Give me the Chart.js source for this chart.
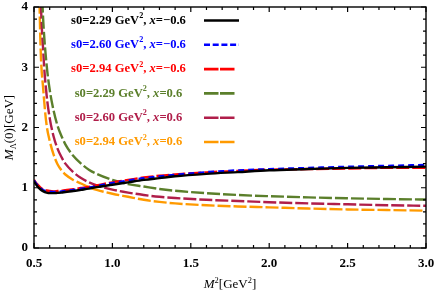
<!DOCTYPE html>
<html>
<head>
<meta charset="utf-8">
<script src="https://cdn.jsdelivr.net/npm/chart.js@4"></script>
<style>
  html, body { margin: 0; padding: 0; background: #fff; }
</style>
</head>
<body>
<canvas id="chart" width="436" height="296"></canvas>
<script>
// M^2 grid [GeV^2]
const m2 = [0.5, 0.52, 0.54, 0.56, 0.58, 0.6, 0.625, 0.65, 0.675, 0.7, 0.75, 0.8, 0.85, 0.9, 1.0, 1.1, 1.2, 1.3, 1.4, 1.6, 1.8, 2.0, 2.25, 2.5, 2.75, 3.0];

// x = -0.6
const s229neg = [1.1, 1.03, 0.975, 0.94, 0.92, 0.91, 0.91, 0.915, 0.92, 0.93, 0.945, 0.965, 0.985, 1.01, 1.05, 1.09, 1.13, 1.16, 1.19, 1.23, 1.26, 1.29, 1.31, 1.33, 1.34, 1.35];
const s260neg = [1.12, 1.05, 0.995, 0.96, 0.945, 0.935, 0.93, 0.935, 0.94, 0.95, 0.965, 0.985, 1.005, 1.03, 1.08, 1.12, 1.16, 1.19, 1.215, 1.26, 1.29, 1.31, 1.33, 1.35, 1.365, 1.38];
const s294neg = [1.13, 1.06, 1.005, 0.97, 0.955, 0.945, 0.94, 0.945, 0.95, 0.96, 0.975, 0.995, 1.015, 1.04, 1.09, 1.13, 1.17, 1.2, 1.22, 1.255, 1.28, 1.3, 1.31, 1.32, 1.33, 1.33];
// x = 0.6
const s229pos = [null, null, 4.92, 3.72, 3.05, 2.63, 2.28, 2.03, 1.86, 1.72, 1.53, 1.4, 1.3, 1.23, 1.13, 1.06, 1.02, 0.98, 0.95, 0.91, 0.88, 0.86, 0.84, 0.825, 0.813, 0.804];
const s260pos = [null, 9.6, 4.62, 3.22, 2.55, 2.16, 1.85, 1.65, 1.51, 1.4, 1.26, 1.16, 1.09, 1.04, 0.97, 0.92, 0.88, 0.85, 0.83, 0.8, 0.78, 0.76, 0.74, 0.725, 0.71, 0.7];
const s294pos = [null, 6.5, 3.5, 2.6, 2.05, 1.78, 1.55, 1.39, 1.29, 1.22, 1.13, 1.07, 1.01, 0.965, 0.9, 0.85, 0.8, 0.765, 0.74, 0.71, 0.69, 0.675, 0.655, 0.64, 0.63, 0.62];

const xTicks = [0.5, 1.0, 1.5, 2.0, 2.5, 3.0];
const yTicks = [0, 1, 2, 3, 4];

const labels = [
  { s0: '2.29', x: '\u22120.6' },
  { s0: '2.60', x: '\u22120.6' },
  { s0: '2.94', x: '\u22120.6' },
  { s0: '2.29', x: '0.6' },
  { s0: '2.60', x: '0.6' },
  { s0: '2.94', x: '0.6' }
];

const serif = '"Liberation Serif", "Times New Roman", serif';

function pts(ys) {
  return m2.map((x, i) => ({ x: x, y: ys[i] }));
}

function series(ys, color, dash, width) {
  return {
    data: pts(ys),
    borderColor: color,
    backgroundColor: color,
    borderWidth: width,
    borderDash: dash,
    pointRadius: 0,
    fill: false,
    cubicInterpolationMode: 'monotone',
    spanGaps: false
  };
}

// runs: [text, italic, shift] ; shift -1 superscript, 1 subscript
function drawRuns(ctx, runs, x, y, size, weight, align) {
  const measure = runs.map(r => {
    const s = r[2] ? size * 0.65 : size;
    ctx.font = (r[1] ? 'italic ' : '') + weight + ' ' + s + 'px ' + serif;
    return ctx.measureText(r[0]).width;
  });
  const total = measure.reduce((a, b) => a + b, 0);
  let cx = align === 'center' ? x - total / 2 : (align === 'right' ? x - total : x);
  ctx.textBaseline = 'middle';
  ctx.textAlign = 'left';
  runs.forEach((r, i) => {
    const s = r[2] ? size * 0.65 : size;
    ctx.font = (r[1] ? 'italic ' : '') + weight + ' ' + s + 'px ' + serif;
    const dy = r[2] === -1 ? -size * 0.35 : (r[2] === 1 ? size * 0.3 : 0);
    ctx.fillText(r[0], cx, y + dy);
    cx += measure[i];
  });
}

const framePlugin = {
  id: 'frame',
  afterDatasetsDraw(chart) {
    const ctx = chart.ctx;
    const a = chart.chartArea;
    const xs = chart.scales.x, ys = chart.scales.y;
    ctx.save();
    ctx.strokeStyle = '#000';
    ctx.lineWidth = 1.4;
    ctx.setLineDash([]);
    ctx.strokeRect(a.left, a.top, a.right - a.left, a.bottom - a.top);

    // inward ticks on all four sides
    ctx.lineWidth = 1.2;
    ctx.beginPath();
    for (let i = 0; i <= 25; i++) {
      const v = 0.5 + i * 0.1;
      const px = xs.getPixelForValue(v);
      const len = i % 5 === 0 ? 5 : 3;
      ctx.moveTo(px, a.bottom); ctx.lineTo(px, a.bottom - len);
      ctx.moveTo(px, a.top); ctx.lineTo(px, a.top + len);
    }
    for (let i = 0; i <= 20; i++) {
      const v = i * 0.2;
      const py = ys.getPixelForValue(v);
      const len = i % 5 === 0 ? 5 : 3;
      ctx.moveTo(a.left, py); ctx.lineTo(a.left + len, py);
      ctx.moveTo(a.right, py); ctx.lineTo(a.right - len, py);
    }
    ctx.stroke();

    // axis titles
    ctx.fillStyle = '#000';
    drawRuns(ctx, [['M', true], ['2', false, -1], ['[GeV', false], ['2', false, -1], [']', false]],
      (a.left + a.right) / 2, 285, 13, 'normal', 'center');
    ctx.save();
    ctx.translate(10, (a.top + a.bottom) / 2);
    ctx.rotate(-Math.PI / 2);
    drawRuns(ctx, [['M', true], ['\u039B', false, 1], ['(0)[GeV]', false]], 0, 0, 13, 'normal', 'center');
    ctx.restore();

    // legend
    chart.data.datasets.forEach((ds, i) => {
      const y = 20.5 + i * 24.3;
      ctx.fillStyle = ds.borderColor;
      const lb = labels[i];
      drawRuns(ctx, [['s0=' + lb.s0 + ' GeV', false], ['2', false, -1], [', ', false], ['x', true], ['=' + lb.x, false]],
        128.5, y, 12.6, 'bold', 'center');
      ctx.strokeStyle = ds.borderColor;
      ctx.lineWidth = 2.6;
      ctx.setLineDash(i === 1 ? [6, 2.7] : (i === 0 ? [] : [14.5, 1.5]));
      ctx.beginPath();
      ctx.moveTo(204, y);
      ctx.lineTo(i < 2 ? 239 : 235, y);
      ctx.stroke();
    });
    ctx.restore();
  }
};

new Chart(document.getElementById('chart'), {
  type: 'line',
  data: {
    datasets: [
      series(s229neg, '#000000', [], 2.4),
      series(s260neg, '#0000ff', [6, 4], 2.2),
      series(s294neg, '#ff0000', [13, 3], 2.4),
      series(s229pos, '#5b7f2b', [13, 3], 2.4),
      series(s260pos, '#b01e4a', [13, 3], 2.4),
      series(s294pos, '#ff9a00', [13, 3], 2.4)
    ]
  },
  options: {
    responsive: false,
    animation: false,
    layout: { padding: { top: 7, right: 10, left: 0, bottom: 0 } },
    plugins: {
      legend: { display: false },
      tooltip: { enabled: false }
    },
    scales: {
      x: {
        type: 'linear',
        min: 0.5,
        max: 3.0,
        afterFit(scale) {
          scale.height = 48;
          scale.paddingLeft = 0;
          scale.paddingRight = 0;
        },
        afterBuildTicks(scale) { scale.ticks = xTicks.map(v => ({ value: v })); },
        grid: { display: false, drawTicks: false },
        border: { display: false },
        ticks: {
          padding: 8,
          color: '#000',
          maxRotation: 0,
          font: { family: serif, size: 13, weight: 'bold' },
          callback: v => v.toFixed(1)
        }
      },
      y: {
        min: 0,
        max: 4,
        afterFit(scale) {
          scale.width = 34;
          scale.paddingTop = 0;
          scale.paddingBottom = 0;
        },
        afterBuildTicks(scale) { scale.ticks = yTicks.map(v => ({ value: v })); },
        grid: { display: false, drawTicks: false },
        border: { display: false },
        ticks: {
          padding: 6,
          color: '#000',
          font: { family: serif, size: 13, weight: 'bold' }
        }
      }
    }
  },
  plugins: [framePlugin]
});
</script>
</body>
</html>
